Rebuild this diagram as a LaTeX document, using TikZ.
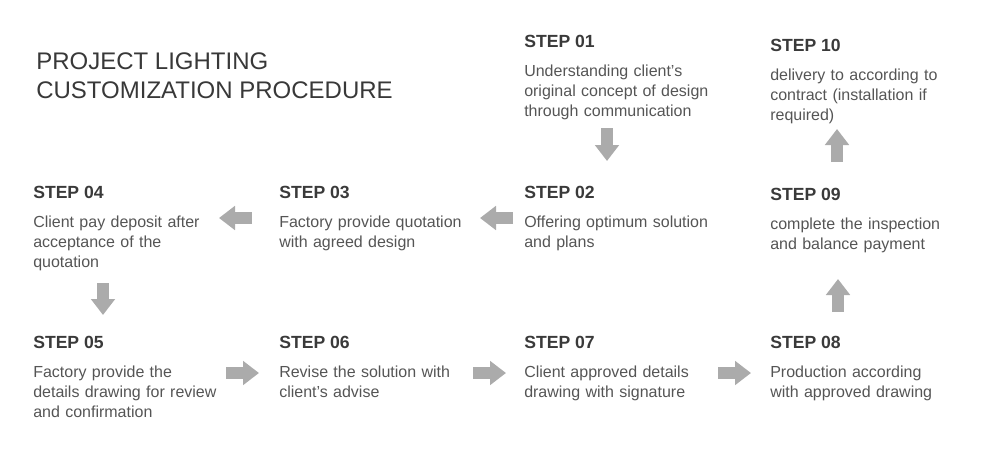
\documentclass[tikz,border=0pt]{standalone}
\usepackage{fontspec}
\setmainfont{Liberation Sans}
\usetikzlibrary{arrows.meta,positioning}

\definecolor{procTitle}{HTML}{383838}
\definecolor{procHead}{HTML}{3A3A3A}
\definecolor{procBody}{HTML}{555555}
\definecolor{procArrow}{HTML}{ABABAB}

\def\procColA{33}
\def\procColB{279}
\def\procColC{524}
\def\procColD{770}
\def\procBodyGap{22}
\def\procBodyWidth{190pt}

\tikzset{
    procTitleText/.style = {anchor = base west, inner sep = 0, align = left,
        text = procTitle, font = \fontsize{18}{21.75}\selectfont},
    procHeadText/.style = {anchor = base west, inner sep = 0,
        text = procHead, font = \bfseries\fontsize{13.2}{15}\selectfont},
    procBodyText/.style = {anchor = base west, inner sep = 0, align = left,
        text width = \procBodyWidth, text = procBody,
        font = \fontsize{12}{15}\selectfont},
    procBlockArrow/.style = {draw = procArrow, line width = 8.5pt,
        -{Triangle[length = 12pt, width = 17.5pt]}},
}

\begin{document}
\begin{tikzpicture}[x = 0.75pt, y = -0.75pt]
            \useasboundingbox (0,0) rectangle (991,464);
            %% title (base is the last line)
            \node [procTitleText] (title) at (36,98)
            {PROJECT LIGHTING\\CUSTOMIZATION PROCEDURE};
            %% first row
            \node [procHeadText] (s01h) at (\procColC,47) {STEP 01};
            \node [procBodyText] (s01) at ([yshift=-\procBodyGap pt]s01h.base west)
            {Understanding client’s\\original concept of design\\through communication};
            \node [procHeadText] (s10h) at (\procColD,51) {STEP 10};
            \node [procBodyText] (s10) at ([yshift=-\procBodyGap pt]s10h.base west)
            {delivery to according to\\contract (installation if\\required)};
            %% second row
            \node [procHeadText] (s04h) at (\procColA,198) {STEP 04};
            \node [procBodyText] (s04) at ([yshift=-\procBodyGap pt]s04h.base west)
            {Client pay deposit after\\acceptance of the\\quotation};
            \node [procHeadText] (s03h) at (\procColB,198) {STEP 03};
            \node [procBodyText] (s03) at ([yshift=-\procBodyGap pt]s03h.base west)
            {Factory provide quotation\\with agreed design};
            \node [procHeadText] (s02h) at (\procColC,198) {STEP 02};
            \node [procBodyText] (s02) at ([yshift=-\procBodyGap pt]s02h.base west)
            {Offering optimum solution\\and plans};
            \node [procHeadText] (s09h) at (\procColD,200) {STEP 09};
            \node [procBodyText] (s09) at ([yshift=-\procBodyGap pt]s09h.base west)
            {complete the inspection\\and balance payment};
            %% third row
            \node [procHeadText] (s05h) at (\procColA,348) {STEP 05};
            \node [procBodyText] (s05) at ([yshift=-\procBodyGap pt]s05h.base west)
            {Factory provide the\\details drawing for review\\and confirmation};
            \node [procHeadText] (s06h) at (\procColB,348) {STEP 06};
            \node [procBodyText] (s06) at ([yshift=-\procBodyGap pt]s06h.base west)
            {Revise the solution with\\client’s advise};
            \node [procHeadText] (s07h) at (\procColC,348) {STEP 07};
            \node [procBodyText] (s07) at ([yshift=-\procBodyGap pt]s07h.base west)
            {Client approved details\\drawing with signature};
            \node [procHeadText] (s08h) at (\procColD,348) {STEP 08};
            \node [procBodyText] (s08) at ([yshift=-\procBodyGap pt]s08h.base west)
            {Production according\\with approved drawing};
            %% arrow ends
            \coordinate (a01s) at (607,128);
            \coordinate (a01e) at (607,161);
            \coordinate (a02s) at (513,218);
            \coordinate (a02e) at (480,218);
            \coordinate (a03s) at (252,218);
            \coordinate (a03e) at (219,218);
            \coordinate (a04s) at (103,283);
            \coordinate (a04e) at (103,315);
            \coordinate (a05s) at (226,373);
            \coordinate (a05e) at (259,373);
            \coordinate (a06s) at (473,373);
            \coordinate (a06e) at (506,373);
            \coordinate (a07s) at (718,373);
            \coordinate (a07e) at (751,373);
            \coordinate (a08s) at (838,312);
            \coordinate (a08e) at (838,279);
            \coordinate (a09s) at (837,162);
            \coordinate (a09e) at (837,129);
            %% arrows
            \draw [procBlockArrow] (a01s) -- (a01e);
            \draw [procBlockArrow] (a02s) -- (a02e);
            \draw [procBlockArrow] (a03s) -- (a03e);
            \draw [procBlockArrow] (a04s) -- (a04e);
            \draw [procBlockArrow] (a05s) -- (a05e);
            \draw [procBlockArrow] (a06s) -- (a06e);
            \draw [procBlockArrow] (a07s) -- (a07e);
            \draw [procBlockArrow] (a08s) -- (a08e);
            \draw [procBlockArrow] (a09s) -- (a09e);
\end{tikzpicture}
\end{document}
